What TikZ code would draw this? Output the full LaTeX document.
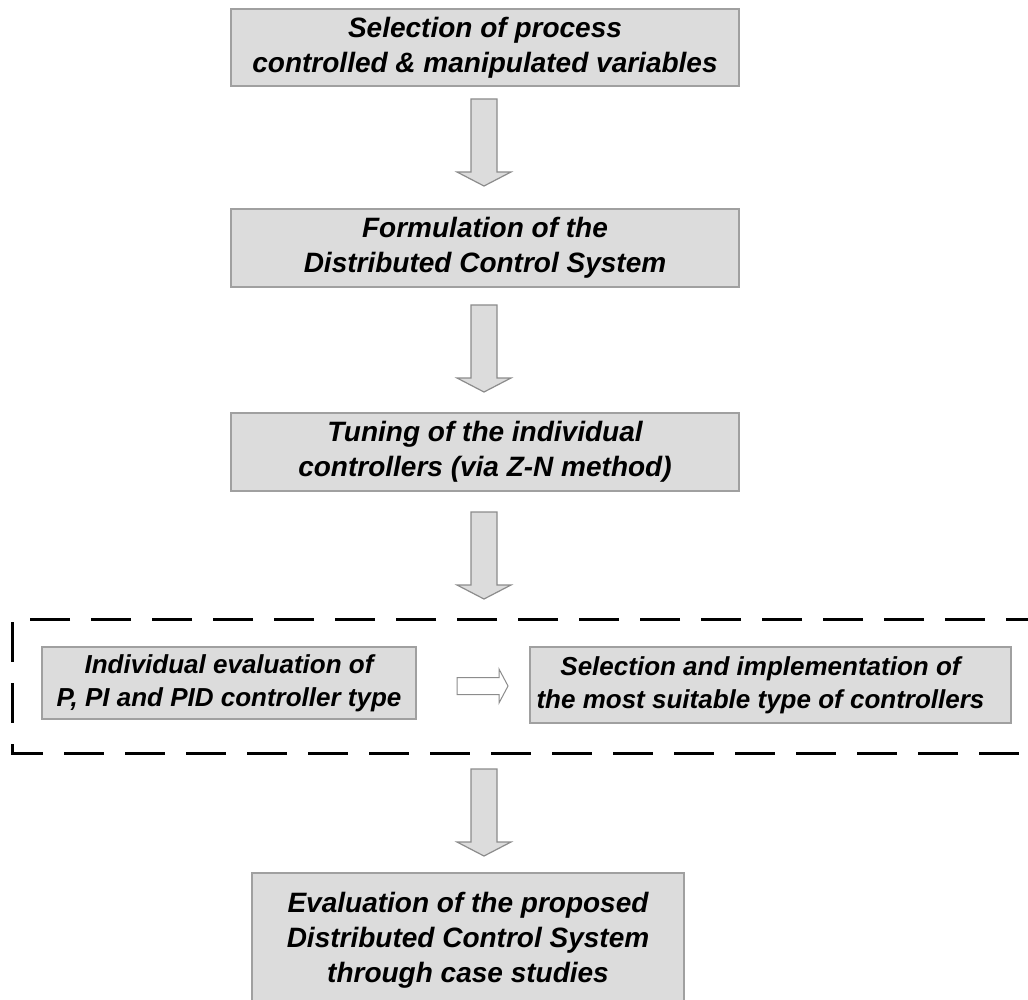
\documentclass[tikz,border=0pt]{standalone}
\usepackage{fontspec}
\setmainfont{Liberation Sans}
\definecolor{boxfill}{RGB}{220,220,220}
\definecolor{boxline}{RGB}{160,160,160}
\definecolor{arrline}{RGB}{140,140,140}
\tikzset{
  box/.style={draw=boxline, fill=boxfill, line width=1.5pt, inner sep=0pt, align=center,
    font=\fontsize{28}{35}\selectfont\bfseries\itshape},
  smallbox/.style={box, font=\fontsize{26}{33}\selectfont\bfseries\itshape},
  arrowstyle/.style={draw=arrline, fill=boxfill, line width=1.2pt, line join=miter},
  downarr/.pic={\draw[arrowstyle] (-13,0) -- (13,0) -- (13,73) -- (27,73) -- (0,87) -- (-27,73) -- (-13,73) -- cycle;},
  rightarr/.pic={\draw[draw=arrline, fill=white, line width=1pt] (0,-8.5) -- (42,-8.5) -- (42,-17) -- (51,0) -- (42,17) -- (42,8.5) -- (0,8.5) -- cycle;},
  dashframe/.style={line width=3pt, dash pattern=on 40pt off 21pt, dash phase=6pt}
}
\begin{document}
\begin{tikzpicture}[x=1pt, y=-1pt]
\useasboundingbox (0,0) rectangle (1028,1000);
\clip (0,0) rectangle (1028,1000);
\node[box, minimum width=508pt, minimum height=77pt] (b1) at (485,47.5) {Selection of process\\controlled \& manipulated variables};
\node[box, minimum width=508pt, minimum height=78pt] (b2) at (485,248) {Formulation of the\\Distributed Control System};
\node[box, minimum width=508pt, minimum height=78pt] (b3) at (485,452) {Tuning of the individual\\controllers (via Z-N method)};
\node[smallbox, minimum width=374pt, minimum height=72pt] (l) at (229,683) {Individual evaluation of\\P, PI and PID controller type};
\node[smallbox, minimum width=481pt, minimum height=76pt] (r) at (770.5,685) {Selection and implementation of\hspace*{20pt}\\the most suitable type of controllers\hspace*{20pt}};
\node[box, minimum width=432pt, minimum height=134pt] (b4) at (468,940) {Evaluation of the proposed\\Distributed Control System\\through case studies};
\pic at (484,99) {downarr};
\pic at (484,305) {downarr};
\pic at (484,512) {downarr};
\pic at (484,769) {downarr};
\pic at (457,686) {rightarr};
\coordinate (dtr) at (1040,619);
\coordinate (dtl) at (12,619);
\coordinate (dbl) at (12,753);
\coordinate (dbr) at (1040,753);
\draw[dashframe] (dtr) -- (dtl) -- (dbl) -- (dbr);
\end{tikzpicture}
\end{document}
